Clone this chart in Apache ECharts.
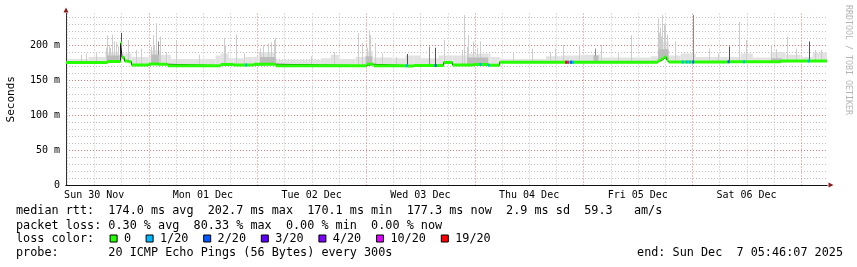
<!DOCTYPE html>
<html><head><meta charset="utf-8">
<script src="https://cdn.jsdelivr.net/npm/echarts@6/dist/echarts.min.js"></script>
<style>html,body{margin:0;padding:0;background:#fff}#c{width:857px;height:267px}</style>
</head><body><div id="c"></div>
<script>
// x values: hours since Sun 30 Nov 00:00 ; y values: milliseconds
const T_START = 5.77, T_END = 173.77;
const dayLabels = ['Sun 30 Nov','Mon 01 Dec','Tue 02 Dec','Wed 03 Dec','Thu 04 Dec','Fri 05 Dec','Sat 06 Dec'];
const labelHours = [12,36,60,84,108,132,156];
const midnightHours = [24,48,72,96,120,144,168];
const minorHours = [6,12,18,30,36,42,54,60,66,78,84,90,102,108,114,126,132,138,150,156,162];
const yMinor = [10,20,30,40,60,70,80,90,110,120,130,140,160,170,180,190,210,220,230,240];
const yMajor = [50,100,150,200];
const yLabelValues = [0,50,100,150,200];

// median rtt: [start hour, value ms] (value holds until next start)
const medianSteps = [
 [5.77,175.0],[14.95,176.5],[17.82,202.7],[18.15,182.0],[18.70,177.0],[19.58,176.0],[20.24,171.5],
 [24.00,173.0],[25.99,172.5],[28.19,170.5],[39.90,172.0],[42.77,171.5],[47.18,172.5],[52.04,170.5],
 [72.13,172.4],[73.68,170.5],[81.19,170.1],[82.51,170.8],[89.13,175.0],[91.12,171.4],[95.76,172.0],
 [99.07,171.0],[101.50,175.5],[136.39,177.5],[137.05,180.0],[137.71,182.5],[138.37,179.0],[138.81,175.8],
 [151.84,176.2],[163.54,177.3]
];
// light smoke upper edge: [start hour, top ms]
const smokeBand = [
 [5.77,180],[10.75,183],[14.5,190],[17.4,186],[18.3,188],[20.24,183],[24.4,192],[26.6,186],[28.9,180],
 [38.8,185],[39.9,188],[41.7,181],[45.4,183],[48.3,190],[52.0,179],[62.0,181],[64.2,186],[66.0,180],
 [69.7,183],[71.9,191],[73.5,182],[77.9,181],[80.7,185],[84.1,181],[88.0,185],[94.2,188],[99.5,183],
 [101.7,180],[111.7,184],[115.0,185],[119.4,186],[123.8,182],[134.8,184],[136.4,205],[138.8,185],
 [141.5,188],[144.8,183],[154.7,188],[157.4,182],[161.3,190],[164.6,186],[167.9,183],[170.6,189]
];
// darker smoke core: [start hour, end hour, top ms]
const smokeCore = [
 [14.8,17.6,185],[24.6,26.4,186],[48.6,52.0,183],[71.9,73.4,184],[94.3,99.0,182],
 [122.2,123.3,185],[136.5,138.8,194],[161.4,163.8,181]
];
// individual smoke spikes: [hour, top ms, shade]
const smokeSpikes = [
 [9.1,186,0],[10.2,188,0],[12.30,190,0],[14.50,196,0],[14.72,214,0],[15.17,200,0],[15.50,196,0],[15.83,215,0],[16.27,205,0],[16.71,204,0],[17.15,198,0],
 [17.93,217,2],[19.36,207,0],[21.13,193,0],[22.23,195,0],[24.50,197,0],[24.88,214,0],[25.25,200,0],[25.61,231,0],[25.99,205,1],
 [26.49,212,0],[27.75,190,0],[29.96,207,0],[35.2,186,0],[40.56,210,0],[40.89,200,0],[43.21,215,0],[44.97,188,0],
 [48.70,195,0],[49.32,200,0],[50.27,202,0],[50.94,204,0],[51.67,207,0],[51.93,210,0],[59.77,184,0],[64.85,190,0],
 [70.21,217,0],[71.03,203,0],[72.20,196,0],[72.57,221,0],[72.90,214,0],[73.90,203,0],[75.44,188,0],[78.54,183,0],
 [81.07,187,2],[85.82,198,1],[87.30,196,2],[89.20,207,0],[93.11,193,0],[93.66,243,0],[94.21,197,0],
 [94.59,214,0],[95.54,205,0],[96.42,196,0],[97.15,205,0],[104.52,190,0],[108.67,195,0],[112.54,190,0],
 [113.64,195,0],[115.56,200,0],[118.94,200,0],[122.47,195,1],[123.95,200,0],[127.55,188,0],[130.58,214,0],
 [136.39,238,0],[136.60,218,0],[136.83,225,0],[137.10,212,0],[137.34,243,0],[137.71,230,0],[138.08,229,0],[138.37,215,0],[140.14,205,0],
 [144.18,243,1],[147.80,195,0],[149.63,188,0],[152.06,198,2],[154.27,233,0],[155.88,207,0],[161.40,200,0],
 [162.50,194,0],[164.94,212,0],[166.86,195,0],[169.73,205,2],[171.20,193,0],[172.38,193,0]
];
// packet loss spots: [hour, loss level index]
const lossSpots = [
 [45.53,1],[80.96,1],[87.37,2],[97.30,1],[99.07,1],[116.18,6],[116.62,5],[117.28,2],[117.73,1],
 [141.91,1],[142.79,1],[143.45,1],[144.22,2],[152.06,2],[155.48,1],[169.73,1]
];
const lossColors = ['#26ff00','#00b8ff','#0059ff','#5e00ff','#7e00ff','#dd00ff','#ff0000'];
const lossLabels = ['0','1/20','2/20','3/20','4/20','10/20','19/20'];
const legendRows = [
 'median rtt:  174.0 ms avg  202.7 ms max  170.1 ms min  177.3 ms now  2.9 ms sd  59.3   am/s',
 'packet loss: 0.30 % avg  80.33 % max  0.00 % min  0.00 % now',
 'loss color:',
 'probe:       20 ICMP Echo Pings (56 Bytes) every 300s'
];
const endText = 'end: Sun Dec  7 05:46:07 2025';
const yName = 'Seconds';
const watermark = 'RRDTOOL / TOBI OETIKER';

// ---- derived helpers ----
function stepAt(steps, h){ let v = steps[0][1]; for (const s of steps){ if (s[0] <= h + 1e-9) v = s[1]; else break; } return v; }
const medianAt = h => stepAt(medianSteps, h);
const bandAt = h => stepAt(smokeBand, h);
const medianSegs = medianSteps.map((s,i) => [s[0], i < medianSteps.length-1 ? medianSteps[i+1][0] : T_END, s[1]]);
const breaks = Array.from(new Set(medianSteps.map(s=>s[0]).concat(smokeBand.map(s=>s[0])).concat([T_END]))).sort((a,b)=>a-b);
const hazePieces = [];
for (let i=0;i<breaks.length-1;i++){ const h0=breaks[i], h1=breaks[i+1]; hazePieces.push([h0,h1,medianAt((h0+h1)/2)-1,bandAt((h0+h1)/2)]); }
const corePieces = smokeCore.map(c => [c[0], c[1], medianAt((c[0]+c[1])/2), c[2]]);
const spikeData = smokeSpikes.map(s => [s[0], medianAt(s[0]), s[1], s[2]]);
const medianLine = medianSteps.map(s=>[s[0], s[1]]).concat([[T_END, medianSteps[medianSteps.length-1][1]]]);
const lossData = lossSpots.map(s => [s[0], medianAt(s[0]), s[1]]);

const spikeShades = ['#cdcdcd','#8c8c8c','#505050'];
const MONO = 'DejaVu Sans Mono';
const GRID_MINOR = '#c0c0c0', GRID_MAJOR = '#e27c7c';

function rectItem(api, h0, h1, v0, v1, fill){
  const a = api.coord([h0, v1]), b = api.coord([h1, v0]);
  return {type:'rect', shape:{x:a[0], y:a[1], width:b[0]-a[0], height:b[1]-a[1]}, style:{fill:fill}};
}
function vGrid(color){
  return (p, api) => { const cs = p.coordSys; const x = Math.round(api.coord([api.value(0), 0])[0]) + 0.5;
    return {type:'line', shape:{x1:x, y1:cs.y, x2:x, y2:cs.y+cs.height}, style:{stroke:color, lineWidth:1, lineDash:[1,2]}}; };
}
function hGrid(color){
  return (p, api) => { const cs = p.coordSys; const y = Math.round(api.coord([T_START, api.value(1)])[1]) + 0.5;
    return {type:'line', shape:{x1:cs.x, y1:y, x2:cs.x+cs.width, y2:y}, style:{stroke:color, lineWidth:1, lineDash:[1,2]}}; };
}

const chart = echarts.init(document.getElementById('c'), null, {renderer:'canvas'});
const CW = 7.2, X0 = 16, FONT = '11.8px "' + MONO + '"';
const graphics = [];
const rowY = [211, 225.5, 239, 253];
legendRows.forEach((t,i) => graphics.push({type:'text', x:X0, y:rowY[i], style:{text:t, font:FONT, fill:'#000', verticalAlign:'middle'}}));
let c = 13;
lossLabels.forEach((lab,i) => {
  graphics.push({type:'rect', shape:{x:X0 + c*CW + 0.5, y:rowY[2]-4, width:7, height:7}, style:{fill:lossColors[i], stroke:'#000', lineWidth:1}});
  graphics.push({type:'text', x:X0 + (c+2)*CW, y:rowY[2], style:{text:lab, font:FONT, fill:'#000', verticalAlign:'middle'}});
  c += 2 + lab.length + 2;
});
graphics.push({type:'text', x:843, y:rowY[3], style:{text:endText, font:FONT, fill:'#000', align:'right', verticalAlign:'middle'}});
graphics.push({type:'text', x:848, y:60, rotation:-Math.PI/2, style:{text:watermark, font:'8.3px "'+MONO+'"', fill:'#b4b4b4', align:'center', verticalAlign:'middle'}});

const option = {
  animation:false,
  backgroundColor:'#ffffff',
  grid:{left:66, right:30, top:13.5, bottom:82, containLabel:false, outerBoundsMode:'none'},
  xAxis:[
    {type:'value', min:T_START, max:T_END, position:'bottom', z:5,
     axisLine:{show:true, onZero:false, lineStyle:{color:'#111', width:1}},
     axisTick:{show:false},
     splitLine:{show:false},
     axisLabel:{customValues:labelHours, formatter:v => dayLabels[labelHours.indexOf(v)], fontFamily:MONO, fontSize:10, color:'#000', margin:5}},
    {type:'value', min:T_START, max:T_END, position:'bottom', z:4,
     axisLine:{show:true, onZero:false, symbol:['none','triangle'], symbolSize:[5,5], symbolOffset:[0,4], lineStyle:{color:'#8c1c1c'}},
     axisTick:{show:false}, splitLine:{show:false}, axisLabel:{show:false}}
  ],
  yAxis:[
    {type:'value', min:0, max:245, position:'left', z:5,
     name:yName, nameLocation:'middle', nameGap:49, nameTextStyle:{fontFamily:MONO, fontSize:11, color:'#000'},
     axisLine:{show:true, onZero:false, lineStyle:{color:'#333', width:1}},
     axisTick:{show:false},
     splitLine:{show:false},
     axisLabel:{customValues:yLabelValues, formatter:v => v===0 ? '0' : v + ' m', fontFamily:MONO, fontSize:10, color:'#000', margin:6}},
    {type:'value', min:0, max:245, position:'left', z:4,
     axisLine:{show:true, onZero:false, symbol:['none','triangle'], symbolSize:[5,5], symbolOffset:[0,3.5], lineStyle:{color:'#8c1c1c'}},
     axisTick:{show:false}, splitLine:{show:false}, axisLabel:{show:false}}
  ],
  graphic:graphics,
  series:[
    {type:'custom', name:'gridMinorX', silent:true, z:0, data:minorHours.map(h=>[h,0]), renderItem:vGrid(GRID_MINOR)},
    {type:'custom', name:'gridMinorY', silent:true, z:0, data:yMinor.map(v=>[T_START,v]), renderItem:hGrid(GRID_MINOR)},
    {type:'custom', name:'gridMajorX', silent:true, z:1, data:midnightHours.map(h=>[h,0]), renderItem:vGrid(GRID_MAJOR)},
    {type:'custom', name:'gridMajorY', silent:true, z:1, data:yMajor.map(v=>[T_START,v]), renderItem:hGrid(GRID_MAJOR)},
    {type:'custom', name:'smoke', clip:true, z:2, data:hazePieces,
     renderItem:(p,api)=>rectItem(api, api.value(0), api.value(1), api.value(2), api.value(3), '#e2e2e2')},
    {type:'custom', name:'smokeSpikes', clip:true, z:3, data:spikeData,
     renderItem:(p,api)=>{ const h=api.value(0); const a=api.coord([h, api.value(2)]), b=api.coord([h, api.value(1)]);
       return {type:'rect', shape:{x:Math.round(a[0]), y:a[1], width:1, height:b[1]-a[1]}, style:{fill:spikeShades[api.value(3)]}}; }},
    {type:'custom', name:'smokeCore', clip:true, z:4, data:corePieces,
     renderItem:(p,api)=>rectItem(api, api.value(0), api.value(1), api.value(2), api.value(3), '#bcbcbc')},
    {type:'line', name:'medianStep', step:'end', data:medianLine, symbol:'none', z:5,
     lineStyle:{color:'#111', width:1}},
    {type:'custom', name:'median', clip:true, z:6, data:medianSegs,
     renderItem:(p,api)=>{ const a=api.coord([api.value(0), api.value(2)]), b=api.coord([api.value(1), api.value(2)]);
       return {type:'rect', shape:{x:a[0], y:a[1]-1.5, width:b[0]-a[0], height:3}, style:{fill:lossColors[0]}}; }},
    {type:'custom', name:'loss', clip:true, z:7, data:lossData,
     renderItem:(p,api)=>{ const a=api.coord([api.value(0), api.value(1)]);
       return {type:'rect', shape:{x:a[0]-1, y:a[1]-1.5, width:2, height:3}, style:{fill:lossColors[api.value(2)]}}; }}
  ]
};
chart.setOption(option);
</script>
</body></html>
